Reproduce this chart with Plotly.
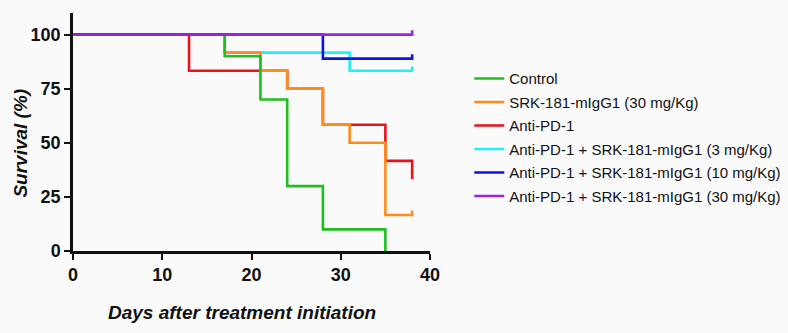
import plotly.graph_objects as go

# Kaplan-Meier survival steps (day, % surviving) per treatment group
groups = [
    "Control",
    "SRK-181-mIgG1 (30 mg/Kg)",
    "Anti-PD-1",
    "Anti-PD-1 + SRK-181-mIgG1 (3 mg/Kg)",
    "Anti-PD-1 + SRK-181-mIgG1 (10 mg/Kg)",
    "Anti-PD-1 + SRK-181-mIgG1 (30 mg/Kg)",
]
colors = ["#1fbf1f", "#ff8c1a", "#e8141a", "#1ff2f2", "#0a14e6", "#a020e0"]

control_days = [0, 17, 21, 24, 28, 35]
control_surv = [100, 90, 70, 30, 10, 0]

srk30_days = [0, 17, 21, 24, 28, 31, 35, 38]
srk30_surv = [100, 91.67, 83.33, 75, 58.33, 50, 16.67, 16.67]

pd1_days = [0, 13, 24, 28, 35, 38]
pd1_surv = [100, 83.33, 75, 58.33, 41.67, 33.33]

combo3_days = [0, 17, 31, 38]
combo3_surv = [100, 91.67, 83.33, 83.33]

combo10_days = [0, 28, 38]
combo10_surv = [100, 88.89, 88.89]

combo30_days = [0, 38]
combo30_surv = [100, 100]

# groups with subjects still alive at the last follow-up get a censor tick
censored = [False, True, False, True, True, True]
censor_tick = 2.0

series = [
    (control_days, control_surv),
    (srk30_days, srk30_surv),
    (pd1_days, pd1_surv),
    (combo3_days, combo3_surv),
    (combo10_days, combo10_surv),
    (combo30_days, combo30_surv),
]

x_title = "Days after treatment initiation"
y_title = "Survival (%)"

# stacking order of the curves (first drawn = bottom)
draw_order = [3, 2, 1, 0, 4, 5]

fig = go.Figure()
for i in draw_order:
    days, surv = series[i]
    xs = list(days)
    ys = list(surv)
    if censored[i]:
        xs.append(days[-1])
        ys.append(surv[-1] + censor_tick)
    fig.add_trace(go.Scatter(
        x=xs, y=ys, mode="lines", name=groups[i],
        legendgroup=f"g{i}", legendrank=i + 1,
        line=dict(color=colors[i], width=2.6, shape="hv"),
    ))

axis_style = dict(
    showgrid=False, zeroline=False,
    showline=True, linecolor="#111111", linewidth=2.5,
    ticks="outside", ticklen=6, tickwidth=2.2, tickcolor="#111111",
    tickfont=dict(size=18, family="Liberation Sans, Arial", weight="bold"),
)

fig.update_layout(
    width=788, height=333,
    margin=dict(l=73, r=358, t=13, b=82, autoexpand=False),
    paper_bgcolor="#fafafa",
    plot_bgcolor="#fafafa",
    font=dict(family="Liberation Sans, Arial, sans-serif", color="#111111"),
    showlegend=True,
    legend=dict(
        x=1.11, y=0.793, xanchor="left", yanchor="top",
        bgcolor="rgba(0,0,0,0)",
        font=dict(size=15, color="#111111"),
        tracegroupgap=1,
        traceorder="grouped",
    ),
    xaxis=dict(range=[0, 40], tickvals=[0, 10, 20, 30, 40], **axis_style),
    yaxis=dict(range=[0, 110], tickvals=[0, 25, 50, 75, 100], **axis_style),
    annotations=[
        dict(text=f"<b><i>{x_title}</i></b>", xref="paper", yref="paper",
             x=0.473, y=-0.26, xanchor="center", yanchor="middle",
             showarrow=False, font=dict(size=19, color="#111111")),
        dict(text=f"<b><i>{y_title}</i></b>", xref="paper", yref="paper",
             x=-0.146, y=0.455, xanchor="center", yanchor="middle",
             textangle=-90, showarrow=False,
             font=dict(size=19, color="#111111")),
    ],
)

fig.write_html("out.html")
